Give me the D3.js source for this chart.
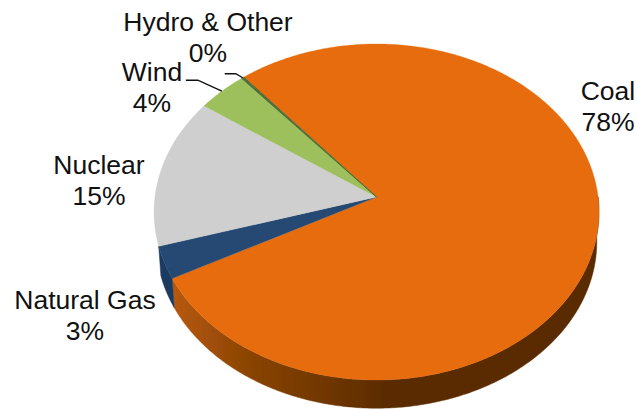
<!DOCTYPE html>
<html><head><meta charset="utf-8">
<script src="https://cdn.jsdelivr.net/npm/d3@7"></script>
<style>html,body{margin:0;background:#fff}svg{display:block}text{font-family:"Liberation Sans",Arial,sans-serif;fill:#111}</style>
</head><body><svg id="c" width="637" height="409"></svg>
<script>
const categories = ["Coal","Natural Gas","Nuclear","Wind","Hydro & Other"];
const values = [78.3,3.1,14.4,4.0,0.2];
const percentLabels = ["78%","3%","15%","4%","0%"];
const colors = ["#e76c0b","#254a73","#cfcfcf","#9dbf5c","#4f7038"];
const sideColors = ["#5a2b02","#1c3a60","#9a9a9a","#6f8a3e","#3a5228"];

const W=637,H=409, cx=376.5, apexY=197, A=221.6, B=166.7, K=0.0893, DEPTH=30, SHRINK=0.99;
const fontSize=26.5, lineGap=30.5;
const labelPos = [[608,100],[85,309],[99,174],[152,81],[208,31]];
const leaders = [null,null,null,[[-36,-11],[-24,-11]],[[-18,-4],[-7,-4]]];

const svg=d3.select("#c");
const sx=d3.scaleLinear().domain([-1,1]).range([cx-A,cx+A]);
const sy=d3.scaleLinear().domain([-1,1]).range([apexY-B,apexY+B]);
const pieLayout=d3.pie().sort(null).value(d=>d).startAngle(-39.8*Math.PI/180).endAngle((360-39.8)*Math.PI/180);
const arcs=pieLayout(values);

// perspective projection of a point on the unit disc (a = clockwise from 12 o'clock)
function project(a,r=1,low=false){
  const u=r*Math.sin(a), v=-r*Math.cos(a), w=1-K*v, f=low?SHRINK:1;
  return [cx+(sx(u/w)-cx)*f, apexY+(sy(v/w)-apexY)*f+(low?DEPTH:0)];
}
const samples=(a0,a1)=>{const n=Math.max(2,Math.ceil(Math.abs(a1-a0)/0.01));return d3.range(n+1).map(i=>a0+(a1-a0)*i/n);};
const line=d3.line();

const defs=svg.append("defs");
const g=defs.append("linearGradient").attr("id","coalSide").attr("gradientUnits","userSpaceOnUse")
  .attr("x1",172).attr("x2",390).attr("y1",0).attr("y2",0);
g.append("stop").attr("offset",0).attr("stop-color","#b8590c");
g.append("stop").attr("offset",0.35).attr("stop-color","#8a4404");
g.append("stop").attr("offset",1).attr("stop-color","#5a2b02");
defs.append("filter").attr("id","soft").append("feGaussianBlur").attr("stdDeviation",0.4);

const chart=svg.append("g").attr("filter","url(#soft)");

// rim: only coal and natural gas show a side wall
const near0=Math.PI/2;
arcs.slice(0,2).forEach((d,i)=>{
  const s0=Math.max(d.startAngle,near0), s1=d.endAngle;
  const ang=samples(s0,s1);
  const pts=ang.map(a=>project(a)).concat(ang.slice().reverse().map(a=>project(a,1,true)));
  chart.append("path").attr("d",line(pts)+"Z")
    .attr("fill",i===0?"url(#coalSide)":sideColors[i]).attr("stroke",i===0?"url(#coalSide)":sideColors[i]).attr("stroke-width",0.5);
});

// top faces
arcs.forEach((d,i)=>{
  const pts=[[cx,apexY]].concat(samples(d.startAngle,d.endAngle).map(a=>project(a)));
  chart.append("path").attr("d",line(pts)+"Z").attr("fill",colors[i]).attr("stroke",colors[i]).attr("stroke-width",i===4?1:0.3);
});

// labels
arcs.forEach((d,i)=>{
  const t=svg.append("text").attr("text-anchor","middle").attr("font-size",fontSize);
  t.append("tspan").attr("x",labelPos[i][0]).attr("y",labelPos[i][1]).text(categories[i]);
  t.append("tspan").attr("x",labelPos[i][0]).attr("y",labelPos[i][1]+lineGap).text(percentLabels[i]);
  if(leaders[i]){
    const end=project((d.startAngle+d.endAngle)/2);
    const pts=leaders[i].map(o=>[end[0]+o[0],end[1]+o[1]]).concat([end]);
    svg.append("path").attr("d",line(pts)).attr("fill","none").attr("stroke","#111").attr("stroke-width",1.4);
  }
});
</script></body></html>
